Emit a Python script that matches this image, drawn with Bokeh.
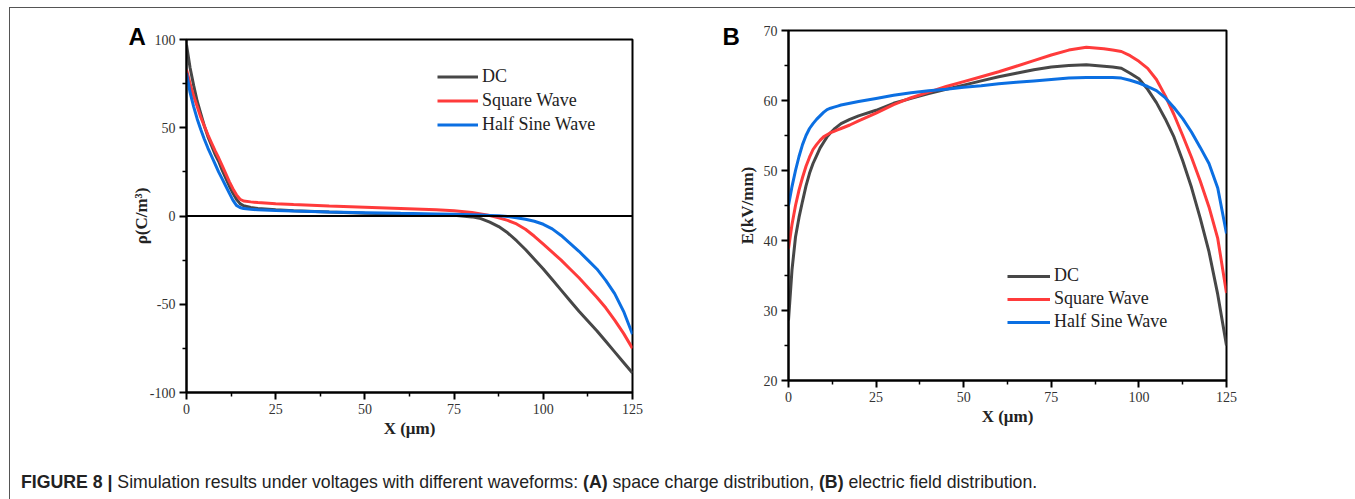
from bokeh.plotting import figure
from bokeh.models import Range1d, FixedTicker, Span, Legend, LegendItem, Div, Title
from bokeh.layouts import row, column
from bokeh.embed import file_html
from bokeh.resources import INLINE

# ---------------- data ----------------
SERIES = ["DC", "Square Wave", "Half Sine Wave"]
COLORS = ["#474747", "#ff3b3b", "#0b6fe2"]

# Panel A: space charge density rho (C/m^3) vs X (um)
xa = [0, 1, 2, 3, 4, 5, 6, 7, 8, 9, 10, 11, 12, 13, 14, 15, 16, 18, 20, 25, 30, 40, 50, 60, 70, 75,
      80, 82.5, 85, 87.5, 90, 92.5, 95, 97.5, 100, 102.5, 105, 107.5, 110, 112.5, 115, 117.5, 120, 122.5, 125]
rho_dc = [97, 84, 74, 65, 58, 51, 45, 40, 35, 31, 26, 21.5, 17, 13, 9.5, 7, 5.8, 4.8, 4.2, 3.5, 3, 2.2, 1.6, 1.1, 0.7, 0.4,
          -0.5, -1.5, -3.5, -6, -9.5, -14, -19, -24.5, -30, -36, -42, -48, -54, -59.5, -65, -71, -77, -83, -89]
rho_sq = [83, 75, 68, 62, 56, 51, 46, 41.5, 37, 33, 28.5, 24, 19.5, 15.5, 12, 9.5, 8.5, 8, 7.6, 7, 6.5, 5.7, 5, 4.3, 3.5, 3,
          2, 1.2, 0.3, -1, -2.5, -4.5, -7.5, -11.5, -16, -20.5, -25, -30, -35, -40.5, -46, -52, -59, -66.5, -75]
rho_hs = [81, 70, 62, 55, 49, 43.5, 38.5, 34, 29.5, 25, 21, 17, 13, 9, 6, 4.8, 4.2, 3.8, 3.5, 3.1, 2.8, 2.3, 1.9, 1.5, 1.2, 1,
          0.7, 0.5, 0.3, 0.1, -0.3, -1, -1.8, -3, -4.7, -7.3, -11, -15.5, -20, -25, -30, -36.5, -44, -54, -67]

# Panel B: electric field E (kV/mm) vs X (um)
xb = [0, 1, 2, 3, 4, 5, 6, 7, 8, 9, 10, 11, 12, 13, 14, 15, 17.5, 20, 25, 30, 35, 40, 45, 50, 55, 60, 65, 70, 75, 80,
      85, 90, 92.5, 95, 97.5, 100, 102.5, 105, 107.5, 110, 112.5, 115, 117.5, 120, 122.5, 125]
e_dc = [28.6, 35.8, 40.5, 43.3, 45.6, 47.8, 49.6, 51, 52.1, 53.2, 54, 54.8, 55.4, 55.9, 56.3, 56.7, 57.3, 57.8, 58.6, 59.6,
        60.3, 61, 61.6, 62.2, 62.8, 63.4, 63.9, 64.4, 64.8, 65,
        65.1, 64.9, 64.8, 64.6, 63.9, 63.1, 61.6, 59.7, 57.4, 54.8, 51.4, 47.6, 43.2, 38.4, 32.3, 25]
e_sq = [38.8, 42.3, 45, 47.2, 49, 50.6, 51.9, 53, 53.7, 54.3, 54.8, 55.1, 55.4, 55.6, 55.8, 56, 56.5, 57.1, 58.2, 59.4,
        60.4, 61.2, 62, 62.7, 63.4, 64.1, 64.9, 65.7, 66.5, 67.2,
        67.6, 67.4, 67.2, 67, 66.4, 65.6, 64.6, 63, 60.7, 58, 55, 51.9, 48.5, 44.8, 40.3, 32.5]
e_hs = [45, 47.7, 50, 52, 53.7, 55, 56, 56.7, 57.3, 57.8, 58.3, 58.7, 58.9, 59.05, 59.2, 59.35, 59.6, 59.85, 60.3, 60.75,
        61.1, 61.4, 61.6, 61.9, 62.1, 62.4, 62.6, 62.8, 63, 63.2,
        63.3, 63.3, 63.3, 63.2, 62.9, 62.5, 62, 61.4, 60.4, 59, 57.4, 55.5, 53.3, 51, 47.5, 41]

x_ticks = [0, 25, 50, 75, 100, 125]
x_minor = [12.5, 37.5, 62.5, 87.5, 112.5]
ya_ticks = [-100, -50, 0, 50, 100]
ya_minor = [-75, -25, 25, 75]
yb_ticks = [20, 30, 40, 50, 60, 70]
yb_minor = [25, 35, 45, 55, 65]

SERIF = "Liberation Serif"
SANS = "Liberation Sans"


def style(p, xt, xm, yt, ym, xlabel, ylabel, ylab_standoff):
    p.xaxis.ticker = FixedTicker(ticks=xt, minor_ticks=xm)
    p.yaxis.ticker = FixedTicker(ticks=yt, minor_ticks=ym)
    p.yaxis.major_label_overrides = {t: str(t) for t in yt}
    p.xgrid.visible = False
    p.ygrid.visible = False
    p.outline_line_color = "black"
    p.outline_line_width = 2
    p.outline_line_alpha = 1
    p.background_fill_color = "white"
    p.border_fill_color = "white"
    for ax in (p.xaxis[0], p.yaxis[0]):
        ax.axis_line_width = 2
        ax.axis_line_color = "black"
        ax.major_tick_line_width = 2
        ax.minor_tick_line_width = 1.5
        ax.major_tick_line_color = "black"
        ax.minor_tick_line_color = "black"
        ax.major_tick_in = 0
        ax.major_tick_out = 7
        ax.minor_tick_in = 0
        ax.minor_tick_out = 4
        ax.major_label_text_font = SERIF
        ax.major_label_text_font_size = "14px"
        ax.major_label_text_color = "#333333"
        ax.major_label_standoff = 4
        ax.axis_label_text_font = SERIF
        ax.axis_label_text_font_size = "17px"
        ax.axis_label_text_font_style = "bold"
        ax.axis_label_text_color = "#222222"
    p.xaxis[0].axis_label = xlabel
    p.xaxis[0].axis_label_standoff = 2
    p.yaxis[0].axis_label = ylabel
    p.yaxis[0].axis_label_standoff = ylab_standoff


def add_lines(p, x, ys, loc, lh, sp, gw):
    items = []
    for name, y, c in zip(SERIES, ys, COLORS):
        r = p.line(x, y, line_color=c, line_width=3)
        items.append(LegendItem(label=name, renderers=[r]))
    leg = Legend(items=items, location=loc, padding=0, margin=0,
                 border_line_color=None, background_fill_alpha=0,
                 glyph_width=gw, glyph_height=lh, label_height=lh, spacing=sp,
                 label_standoff=4, label_text_font=SERIF, label_text_font_size="18px",
                 label_text_color="#222222")
    p.add_layout(leg, "center")


def panel_title(letter, offset, standoff):
    return Title(text=letter, align="left", offset=offset, standoff=standoff, vertical_align="bottom",
                 text_font=SANS, text_font_style="bold", text_font_size="24px", text_color="black")


# ---------------- panel A ----------------
pa = figure(width=690, height=440, output_backend="svg", toolbar_location=None,
            x_range=Range1d(0, 125), y_range=Range1d(-100, 100),
            min_border_left=176, min_border_right=68, min_border_top=31, min_border_bottom=56)
pa.title = panel_title("A", -58, -21)
style(pa, x_ticks, x_minor, ya_ticks, ya_minor, "X (μm)", "ρ(C/m³)", -4)
pa.add_layout(Span(location=0, dimension="width", line_color="black", line_width=2))
add_lines(pa, xa, [rho_dc, rho_sq, rho_hs], (251, 257), 21, 3, 41)

# ---------------- panel B ----------------
pb = figure(width=653, height=440, output_backend="svg", toolbar_location=None,
            x_range=Range1d(0, 125), y_range=Range1d(20, 70),
            min_border_left=88, min_border_right=127, min_border_top=22, min_border_bottom=68)
pb.title = panel_title("B", -66, -39)
style(pb, x_ticks, x_minor, yb_ticks, yb_minor, "X (μm)", "E(kV/mm)", 4)
add_lines(pb, xb, [e_dc, e_sq, e_hs], (219, 48), 20, 2, 43)

caption = Div(
    text='<div style="padding:17px 0 0 6px; font-family:\'Liberation Sans\', Arial, sans-serif; '
         'font-size:17.7px; color:#222; white-space:nowrap;">'
         '<b>FIGURE 8 |</b> Simulation results under voltages with different waveforms: '
         '<b>(A)</b> space charge distribution, <b>(B)</b> electric field distribution.</div>',
    width=1343, height=50)

layout = column(row(column(pa), column(pb)), caption,
                styles={"border": "1px solid #555555", "margin": "7px 0 0 9px"})

open("out.html", "w").write(file_html(layout, INLINE))
